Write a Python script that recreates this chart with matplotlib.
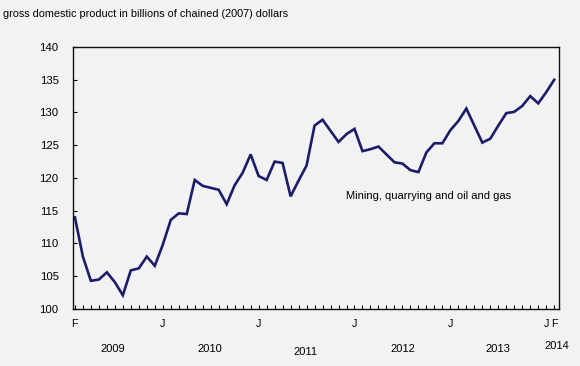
import matplotlib
matplotlib.use("Agg")
import matplotlib.pyplot as plt
import numpy as np

# Monthly GDP, Feb 2009 .. Feb 2014 (billions of chained 2007 dollars)
values = [
    114.0, 108.0, 104.3, 104.5, 105.6, 104.1, 102.1, 105.9, 106.2, 108.0, 106.6,
    109.8, 113.6, 114.6, 114.5, 119.7, 118.8, 118.5, 118.2, 116.0, 118.9, 120.8, 123.6,
    120.3, 119.7, 122.5, 122.3, 117.2, 119.6, 121.9, 128.0, 128.9, 127.2, 125.5, 126.7, 127.5,
    124.1, 124.4, 124.8, 123.6, 122.4, 122.2, 121.2, 120.9, 123.9, 125.3, 125.3,
    127.3, 128.7, 130.6, 128.0, 125.4, 126.0, 128.0, 129.9, 130.1, 131.0, 132.5, 131.4,
    133.1, 135.0,
]
tick_months = [0, 11, 23, 35, 47, 59, 60]
tick_labels = ["F", "J", "J", "J", "J", "J", "F"]
years = ["2009", "2010", "2011", "2012", "2013", "2014"]
year_pos = [4.7, 16.9, 28.9, 41.1, 53.0, 60.3]
year_y = [349, 349, 352, 349, 349, 346]  # pixel rows
y_ticks = [100, 105, 110, 115, 120, 125, 130, 135, 140]
title = "gross domestic product in billions of chained (2007) dollars"
series_label = "Mining, quarrying and oil and gas"

plt.rcParams['font.family'] = ['Liberation Sans', 'DejaVu Sans']

W, H = 580, 366
fig = plt.figure(figsize=(W / 100, H / 100), dpi=100)
bg = "#f2f2f2"
fig.patch.set_facecolor(bg)
ax = fig.add_axes([72.5 / W, 1 - 309 / H, (559 - 72.5) / W, (309 - 47) / H])
ax.set_facecolor(bg)

x = np.arange(len(values))
ax.plot(x, values, color="#1c1c6b", lw=1.9, solid_joinstyle="miter")

ax.set_xlim(-0.3, 60.6)
ax.set_ylim(100, 140)
ax.set_yticks(y_ticks)
ax.set_yticklabels([str(t) for t in y_ticks], fontsize=8.2)
ax.set_xticks(tick_months)
ax.set_xticklabels(tick_labels, fontsize=7.8)
ax.set_xticks(x, minor=True)
ax.tick_params(axis="y", direction="in", length=3, width=0.8, pad=10)
ax.tick_params(axis="x", which="both", direction="in", length=3, width=0.8, pad=7)
for s in ax.spines.values():
    s.set_linewidth(1.0)
    s.set_color("#111111")

for lab, xp, yp in zip(years, year_pos, year_y):
    xd = ax.transData.transform((xp, 100))[0]
    fig.text(xd / W, 1 - yp / H, lab, ha="center", va="center", fontsize=8)

ax.text(33.9, 117.3, series_label, ha="left", va="center", fontsize=8.0)
fig.text(3 / W, 1 - 14 / H, title, ha="left", va="center", fontsize=7.8)

fig.savefig("out.png", dpi=100, facecolor=bg)
